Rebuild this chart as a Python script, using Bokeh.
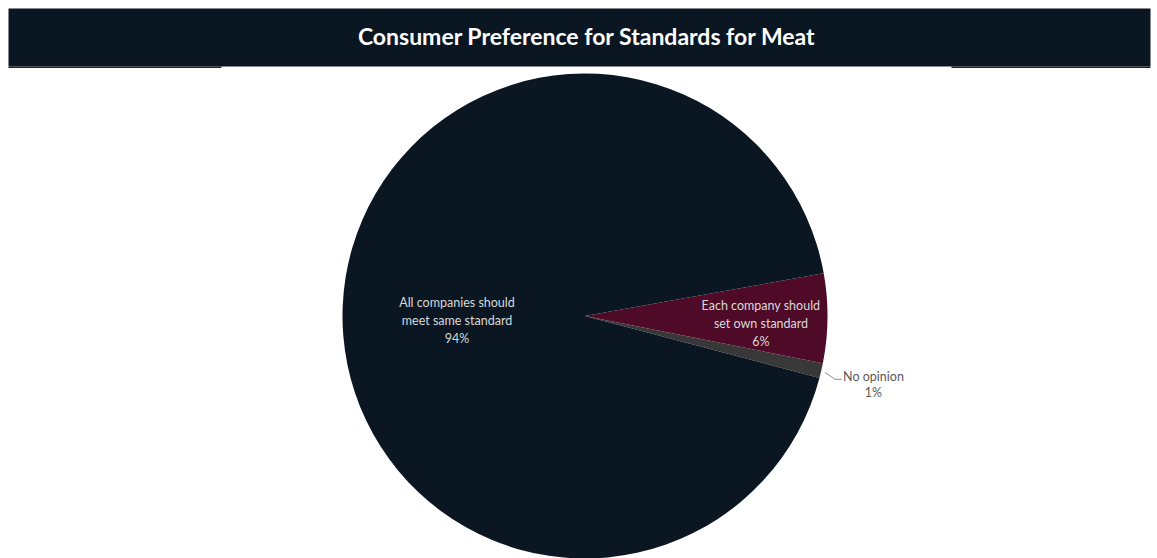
import numpy as np
from bokeh.plotting import figure
from bokeh.models import Range1d, BoxAnnotation, Label, ColumnDataSource
from bokeh.core.properties import value
from bokeh.embed import file_html
from bokeh.resources import INLINE

# ---- data ----
categories = ["No opinion", "Each company should set own standard", "All companies should meet same standard"]
label_lines = [["No opinion", "1%"], ["Each company should", "set own standard", "6%"], ["All companies should", "meet same standard", "94%"]]
percents = [1, 6, 94]
colors = ["#383838", "#4e0a27", "#0a1622"]

W, H = 1157, 558
p = figure(width=W, height=H, output_backend="svg", toolbar_location=None,
           x_range=Range1d(0, W), y_range=Range1d(0, H), min_border=0)
p.axis.visible = False
p.grid.visible = False
p.outline_line_color = None
p.background_fill_color = "white"
p.border_fill_color = "white"

# title bar
p.add_layout(BoxAnnotation(left=8, right=1150, bottom=492, top=550, fill_color="#0a1622", fill_alpha=1, line_color=None))
p.add_layout(BoxAnnotation(left=8, right=221, bottom=490.5, top=492, fill_color="#1e232a", fill_alpha=1, line_color=None))
p.add_layout(BoxAnnotation(left=951, right=1150, bottom=490.5, top=492, fill_color="#1e232a", fill_alpha=1, line_color=None))
p.add_layout(Label(x=586.5, y=523, text="Consumer Preference for Standards for Meat", text_color="white",
                   text_font="Lato", text_font_style="bold", text_font_size="23px",
                   text_align="center", text_baseline="middle"))

# pie
cx, cy, r = 584.5, 242.5, 242.5
vals = np.array(percents, dtype=float)
ang = vals / vals.sum() * 2 * np.pi
offset = np.deg2rad(-14.8)
ends = offset + np.cumsum(ang)
starts = ends - ang
src = ColumnDataSource(dict(start=starts, end=ends, color=colors, cat=categories))
p.wedge(x=cx, y=cy, radius=r, start_angle="start", end_angle="end", fill_color="color",
        line_color=None, source=src)

# labels
lab_pos = [(873, 174.5), (760.5, 235), (456.5, 238)]
lab_gap = [16, 18, 18]
lab_col = ["#595959", "#d9d9d9", "#d9d9d9"]
for lines, (lx, ly), gap, col in zip(label_lines, lab_pos, lab_gap, lab_col):
    n = len(lines)
    for i, t in enumerate(lines):
        yy = ly + (n - 1) / 2 * gap - i * gap
        p.text(x=[lx], y=[yy], text=[t], text_color=col, text_font=value("Lato"),
               text_font_size="12.5px", text_align="center", text_baseline="middle")

# leader line for No opinion
p.line(x=[824.5, 834.5, 841.5], y=[186, 179.2, 179.2], line_color="#8c8c8c", line_width=1)

open("out.html", "w").write(file_html(p, INLINE))
